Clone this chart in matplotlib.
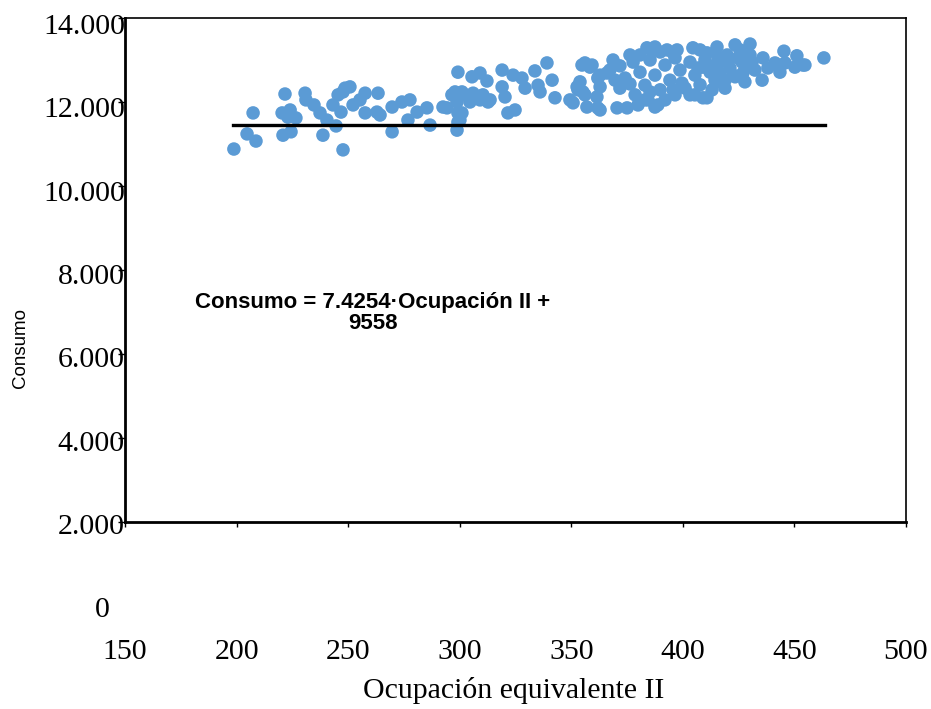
import numpy as np
import matplotlib
matplotlib.use("Agg")
import matplotlib.pyplot as plt

# Ocupacion equivalente II (x) vs Consumo (y)
ocupacion = [
    198.8, 204.7, 208.7, 207.4, 221.7, 220.4, 224.0, 226.6, 220.8, 224.4,
    230.7, 231.1, 234.7, 237.4, 238.7, 240.5, 243.2, 245.5, 247.7, 248.6,
    244.6, 223.0, 246.8, 250.8, 247.7, 252.2, 257.6, 255.3, 263.4, 257.6,
    262.9, 264.3, 269.7, 269.7, 274.1, 277.7, 276.8, 280.9, 285.3, 286.7,
    292.5, 296.5, 297.9, 298.8, 299.2, 299.2, 298.8, 299.2, 305.5, 309.1,
    312.2, 319.0, 319.0, 323.9, 327.9, 329.3, 333.7, 335.1, 336.0, 339.1,
    341.4, 342.7, 320.3, 321.6, 324.8, 313.6, 309.1, 305.5, 302.4, 301.0,
    300.1, 294.3, 306.0, 310.4, 312.7, 304.6, 301.0,
    354.8, 358.4, 353.9, 352.6, 349.4, 350.8, 356.1, 357.0, 361.9, 361.5,
    362.9, 366.0, 353.0, 356.1, 359.3, 361.9, 355.2, 362.9, 370.5, 375.0,
    379.9, 384.4, 388.8, 405.4, 409.0, 368.7, 376.3, 383.9, 387.5, 392.9,
    397.4, 404.5, 386.6, 395.6, 410.8, 415.3, 423.4, 430.1, 435.9, 445.3,
    451.1, 453.8, 450.2, 441.3, 438.1, 443.5, 435.5, 463.2, 383.0, 387.5,
    395.6, 415.3, 423.4, 426.9, 399.6, 410.8, 415.7, 445.8, 454.7, 426.5,
    428.7, 422.5, 416.6, 414.4, 409.0, 419.8,
    367.3, 371.8, 374.1, 377.7, 380.8, 383.0, 385.3, 387.5, 389.8, 392.0,
    394.2, 396.5, 398.7, 401.0, 403.2, 405.4, 407.7, 409.9, 412.2, 413.1,
    416.6, 418.9, 421.1, 424.7, 427.8, 430.1, 432.3, 371.8, 378.6, 392.0,
    403.2, 418.9, 362.9, 369.6, 380.8, 389.8, 407.7, 425.6, 431.0, 376.3,
    385.3, 396.5, 406.8, 414.4, 420.2,
]
consumo = [
    10880, 11240, 11070, 11740, 12190, 11740, 11810, 11620, 11210, 11290,
    12210, 12050, 11930, 11740, 11210, 11570, 11930, 12170, 10860, 12330,
    11430, 11640, 11760, 12360, 12240, 11930, 12210, 12050, 12210, 11740,
    11760, 11690, 11880, 11290, 12000, 12050, 11570, 11760, 11860, 11450,
    11880, 12170, 12240, 12000, 11740, 11520, 11330, 12710, 12600, 12690,
    12500, 12760, 12360, 12640, 12570, 12330, 12740, 12400, 12240, 12930,
    12520, 12100, 12120, 11740, 11810, 12050, 12050, 12170, 12170, 11740,
    11570, 11860, 12210, 12170, 12000, 12000, 12240,
    12880, 12830, 12480, 12360, 12050, 11980, 12170, 11880, 11860, 12120,
    12360, 12690, 12290, 12930, 12880, 12570, 12240, 11810, 11860, 11860,
    11930, 12050, 11930, 12170, 12100, 13000, 13120, 13290, 13310, 13240,
    13240, 13290, 13240, 13170, 13170, 13310, 13360, 13380, 13050, 13210,
    13100, 12880, 12830, 12930, 12810, 12710, 12520, 13050, 12050, 11880,
    12290, 12480, 12600, 12690, 12450, 12100, 13070, 12930, 12880, 12950,
    12830, 12640, 12690, 12520, 12830, 13120,
    12760, 12860, 12570, 12950, 12710, 12400, 13000, 12640, 12290, 12880,
    12520, 13050, 12760, 12330, 12950, 12640, 12410, 13000, 12710, 12290,
    12950, 12520, 12810, 13050, 12480, 13120, 12760, 12330, 12170, 12050,
    12170, 12330, 12640, 12520, 13120, 13190, 13240, 13240, 12950, 12430,
    12240, 12170, 12810, 12880, 13000,
]

# flat trend line as drawn in the source
line_x = [198.5, 463.5]
line_y = [11450, 11450]

x_ticks = [150, 200, 250, 300, 350, 400, 450, 500]
y_ticks = [2000, 4000, 6000, 8000, 10000, 12000, 14000]
y_labels_vals = [0, 2000, 4000, 6000, 8000, 10000, 12000, 14000]
y_labels = ['0  ', '2.000', '4.000', '6.000', '8.000', '10.000', '12.000', '14.000']

serif = 'Liberation Serif'
sans = 'Liberation Sans'
W, H = 931, 709

fig = plt.figure(figsize=(W / 100, H / 100), dpi=100)

# tick labels sit on their own scale (as in the original chart)
ax2 = fig.add_axes([125 / W, 1 - 607.3 / H, 781 / W, (607.3 - 24) / H])
ax2.set_ylim(0, 14000)
ax2.set_yticks(y_labels_vals)
ax2.set_yticklabels(y_labels, family=serif, fontsize=21.5)
ax2.tick_params(axis='y', length=0, pad=0)
ax2.set_xticks([])
ax2.set_frame_on(False)
ax2.patch.set_visible(False)

ax = fig.add_axes([125 / W, 1 - 522 / H, 781 / W, 504 / H])
ax.patch.set_visible(False)
ax.set_xlim(150, 500)
ax.set_ylim(2000, 14000)
ax.set_xticks(x_ticks)
ax.set_xticklabels([str(t) for t in x_ticks], family=serif, fontsize=21.5)
ax.set_yticks(y_ticks)
ax.tick_params(axis='y', direction='out', length=5, width=1, labelleft=False)
ax.tick_params(axis='x', direction='out', length=3.5, width=1, pad=81)

ax.spines['left'].set_linewidth(2.0)
ax.spines['bottom'].set_linewidth(2.0)
ax.spines['top'].set_linewidth(1.2)
ax.spines['right'].set_linewidth(1.2)

ax.scatter(ocupacion, consumo, s=95, color='#5B9BD5', edgecolors='none', zorder=3)
ax.plot(line_x, line_y, color='black', lw=2.4, zorder=4)

fig.text(373 / W, 1 - 313 / H, 'Consumo = 7.4254\u00b7Ocupación II +\n9558',
         ha='center', va='center', multialignment='center', family=sans,
         fontweight='bold', fontsize=16, linespacing=1.0)
fig.text(20 / W, 1 - 348 / H, 'Consumo', rotation=90, ha='center', va='center',
         family=sans, fontsize=13.5)
fig.text(514 / W, 1 - 691 / H, 'Ocupación equivalente II', ha='center', va='center',
         family=serif, fontsize=21.5)

fig.savefig('out.png', dpi=100)
